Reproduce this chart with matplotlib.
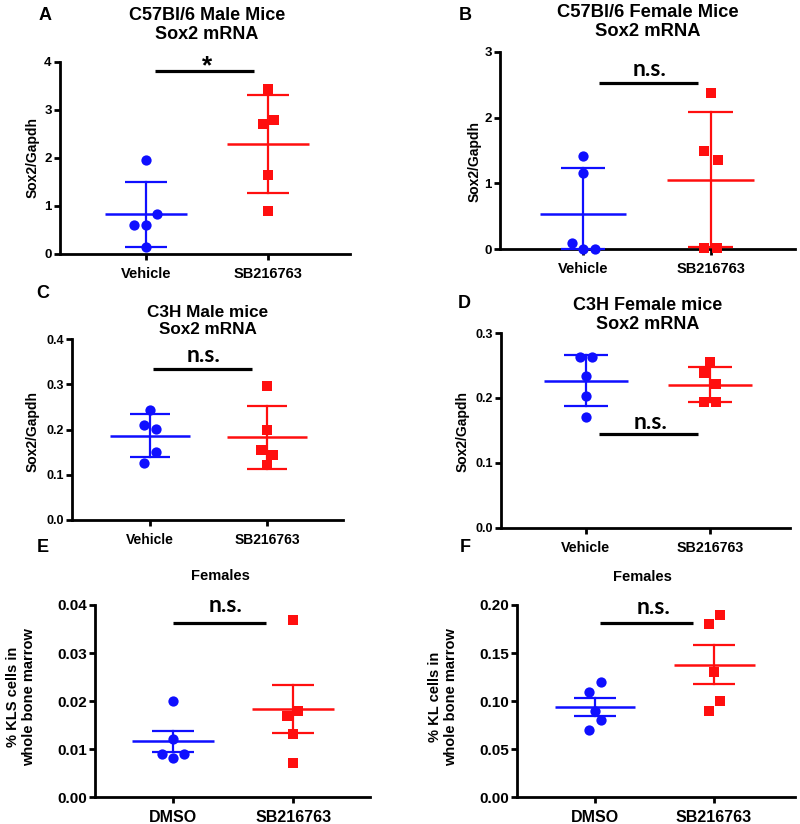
import matplotlib
matplotlib.use("Agg")
import matplotlib.pyplot as plt
import numpy as np

plt.rcParams['font.family'] = ['Liberation Sans', 'DejaVu Sans']
plt.rcParams['font.weight'] = 'bold'

BLUE = '#0f0fff'
RED = '#ff0f0f'

# ---------------- data ----------------
groups_ABCD = ['Vehicle', 'SB216763']
groups_EF = ['DMSO', 'SB216763']

A_vehicle = [1.95, 0.83, 0.60, 0.60, 0.15]
A_sb = [3.44, 2.80, 2.70, 1.64, 0.89]

B_vehicle = [1.42, 1.16, 0.09, 0.0, 0.0]
B_sb = [2.38, 1.50, 1.36, 0.01, 0.01]

C_vehicle = [0.243, 0.210, 0.202, 0.150, 0.127]
C_sb = [0.296, 0.198, 0.154, 0.144, 0.122]

D_vehicle = [0.263, 0.263, 0.233, 0.203, 0.171]
D_sb = [0.255, 0.238, 0.222, 0.194, 0.194]

E_dmso = [0.0201, 0.0121, 0.0090, 0.0090, 0.0081]
E_sb = [0.0369, 0.0180, 0.0170, 0.0131, 0.0072]

F_dmso = [0.12, 0.11, 0.09, 0.08, 0.07]
F_sb = [0.19, 0.18, 0.13, 0.10, 0.09]

# ---------------- layout (positions / styles) ----------------
W, H = 800, 824
fig = plt.figure(figsize=(W / 100, H / 100), dpi=100)


def box(l, r, t, b):
    return [l / W, 1 - b / H, (r - l) / W, (b - t) / H]


# horizontal jitter of points (x units)
JIT = {
    'A': ([0, 0.09, -0.10, 0, 0], [0, 0.05, -0.04, 0, 0]),
    'B': ([0, 0, -0.09, 0, 0.09], [0, -0.05, 0.055, -0.05, 0.05]),
    'C': ([0, -0.05, 0.05, 0.05, -0.05], [0, 0, -0.05, 0.05, 0]),
    'D': ([-0.05, 0.05, 0, 0, 0], [0, -0.05, 0.05, -0.05, 0.05]),
    'E': ([0, 0, -0.09, 0.09, 0], [0, 0.04, -0.05, 0, 0]),
    'F': ([0.05, -0.05, 0, 0.05, -0.05], [0.05, -0.045, 0, 0.05, -0.045]),
}

panels = [
    dict(key='A', box=box(60, 350, 62, 254), data=(A_vehicle, A_sb), groups=groups_ABCD,
         err='sd', ylim=(0, 4), yticks=[0, 1, 2, 3, 4], fmt='{:.0f}', xlim=(-0.705, 1.672),
         sig=(0.074, 0.885, 3.82), sigtxt='*', sigtxtpos=(0.5, 3.65),
         title='C57Bl/6 Male Mice\nSox2 mRNA', tpos=(207, 25), letter=(45, 15),
         ylabel='Sox2/Gapdh', ylpos=(33, 158), ytick_fs=9.5, xtick_fs=10.5, title_fs=13),
    dict(key='B', box=box(500, 795, 52, 249), data=(B_vehicle, B_sb), groups=groups_ABCD,
         err='sd', ylim=(0, 3), yticks=[0, 1, 2, 3], fmt='{:.0f}', xlim=(-0.65, 1.66),
         sig=(0.125, 0.898, 2.53), sigtxt='n.s.', sigtxtpos=(0.52, 2.74),
         title='C57Bl/6 Female Mice\nSox2 mRNA', tpos=(648, 22), letter=(465, 15),
         ylabel='Sox2/Gapdh', ylpos=(475, 161), ytick_fs=9.5, xtick_fs=10.5, title_fs=13.2),
    dict(key='C', box=box(72, 343, 339, 520), data=(C_vehicle, C_sb), groups=groups_ABCD,
         err='sd', ylim=(0, 0.4), yticks=[0, 0.1, 0.2, 0.3, 0.4], fmt='{:.1f}', xlim=(-0.667, 1.65),
         sig=(0.026, 0.87, 0.333), sigtxt='n.s.', sigtxtpos=(0.46, 0.364),
         title='C3H Male mice\nSox2 mRNA', tpos=(208, 321), letter=(43, 293),
         ylabel='Sox2/Gapdh', ylpos=(33, 432), ytick_fs=9, xtick_fs=10, title_fs=12.3),
    dict(key='D', box=box(501, 790, 333, 527.7), data=(D_vehicle, D_sb), groups=groups_ABCD,
         err='sd', ylim=(0, 0.3), yticks=[0, 0.1, 0.2, 0.3], fmt='{:.1f}', xlim=(-0.685, 1.645),
         sig=(0.105, 0.903, 0.144), sigtxt='n.s.', sigtxtpos=(0.52, 0.162),
         title='C3H Female mice\nSox2 mRNA', tpos=(648, 315), letter=(464, 304),
         ylabel='Sox2/Gapdh', ylpos=(463, 432), ytick_fs=9, xtick_fs=10.3, title_fs=13),
    dict(key='E', box=box(95, 370, 605, 797.3), data=(E_dmso, E_sb), groups=groups_EF,
         err='sem', ylim=(0, 0.04), yticks=[0, 0.01, 0.02, 0.03, 0.04], fmt='{:.2f}', xlim=(-0.65, 1.64),
         sig=(0.0, 0.775, 0.0362), sigtxt='n.s.', sigtxtpos=(0.44, 0.0398),
         title='Females', tpos=(220, 576), letter=(43, 547),
         ylabel='% KLS cells in\nwhole bone marrow', ylpos=(21, 697), ytick_fs=11, xtick_fs=11.5, title_fs=10.5),
    dict(key='F', box=box(517, 795, 605, 797.3), data=(F_dmso, F_sb), groups=groups_EF,
         err='sem', ylim=(0, 0.2), yticks=[0, 0.05, 0.10, 0.15, 0.20], fmt='{:.2f}', xlim=(-0.655, 1.68),
         sig=(0.042, 0.824, 0.181), sigtxt='n.s.', sigtxtpos=(0.49, 0.197),
         title='Females', tpos=(642, 577), letter=(465, 547),
         ylabel='% KL cells in\nwhole bone marrow', ylpos=(443, 697), ytick_fs=11, xtick_fs=11.5, title_fs=10.5),
]

SPINE_W = 2.0
ERR_W = 1.6
MEAN_HW = 0.34
CAP_HW = 0.175

for p in panels:
    ax = fig.add_axes(p['box'])
    colors = [BLUE, RED]
    markers = ['o', 's']
    jit = JIT[p['key']]
    for i, vals in enumerate(p['data']):
        v = np.array(vals, dtype=float)
        m = v.mean()
        sd = v.std(ddof=1)
        e = sd if p['err'] == 'sd' else sd / np.sqrt(len(v))
        lo = max(m - e, p['ylim'][0])
        hi = m + e
        c = colors[i]
        ax.plot([i - MEAN_HW, i + MEAN_HW], [m, m], color=c, lw=ERR_W + 0.2, clip_on=False,
                solid_capstyle='butt', zorder=3)
        ax.plot([i, i], [lo, hi], color=c, lw=ERR_W, clip_on=False, zorder=3)
        for yy in (lo, hi):
            ax.plot([i - CAP_HW, i + CAP_HW], [yy, yy], color=c, lw=ERR_W, clip_on=False,
                    solid_capstyle='butt', zorder=3)
        xs = i + np.array(jit[i])
        ax.plot(xs, v, linestyle='none', marker=markers[i], color=c,
                markersize=7.4 if markers[i] == 'o' else 6.9, markeredgewidth=0,
                clip_on=False, zorder=4)

    # significance bar
    x0, x1, ys = p['sig']
    ax.plot([x0, x1], [ys, ys], color='black', lw=2.3, solid_capstyle='butt', clip_on=False)
    tx, ty = p['sigtxtpos']
    if p['sigtxt'] == '*':
        ax.text(tx, ty, '*', ha='center', va='bottom', fontsize=19, fontweight='bold',
                family=['Liberation Sans'])
    else:
        ax.text(tx, ty, p['sigtxt'], ha='center', va='center', fontsize=16.5, fontweight='bold',
                family=['Lato', 'DejaVu Sans'])

    ax.set_xlim(*p['xlim'])
    ax.set_ylim(*p['ylim'])
    ax.set_xticks([0, 1])
    ax.set_xticklabels(p['groups'], fontsize=p['xtick_fs'], fontweight='bold')
    ax.set_yticks(p['yticks'])
    ax.set_yticklabels([p['fmt'].format(t) for t in p['yticks']], fontsize=p['ytick_fs'],
                       fontweight='bold')
    for s in ('top', 'right'):
        ax.spines[s].set_visible(False)
    for s in ('left', 'bottom'):
        ax.spines[s].set_linewidth(SPINE_W)
        ax.spines[s].set_capstyle('projecting')
    ax.tick_params(axis='both', width=SPINE_W, length=4.5, direction='out', color='black')
    ax.tick_params(axis='x', pad=5)
    ax.tick_params(axis='y', pad=1.5)
    ax.patch.set_visible(False)

    # titles, letters, ylabels
    fig.text(p['tpos'][0] / W, 1 - p['tpos'][1] / H, p['title'], ha='center', va='center',
             fontsize=p['title_fs'], fontweight='bold', linespacing=1.2)
    fig.text(p['letter'][0] / W, 1 - p['letter'][1] / H, p['key'], ha='center', va='center',
             fontsize=13, fontweight='bold')
    fig.text(p['ylpos'][0] / W, 1 - p['ylpos'][1] / H, p['ylabel'], ha='center', va='center',
             rotation=90, fontsize=10.5 if p['key'] in 'EF' else 10, fontweight='bold',
             linespacing=1.1)

fig.savefig('out.png', dpi=100, facecolor='white')
